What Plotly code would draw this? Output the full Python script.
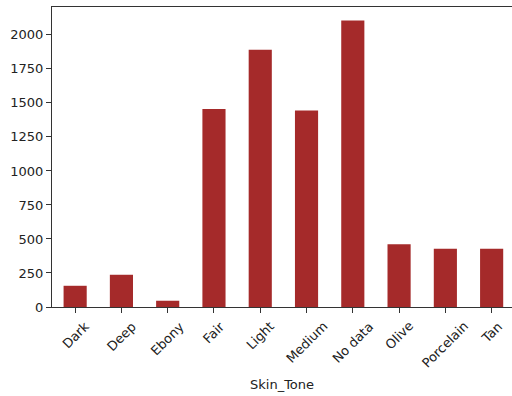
import plotly.graph_objects as go

categories = ["Dark", "Deep", "Ebony", "Fair", "Light", "Medium", "No data", "Olive", "Porcelain", "Tan"]
counts = [156, 237, 46, 1455, 1890, 1445, 2105, 462, 428, 428]
y_ticks = [0, 250, 500, 750, 1000, 1250, 1500, 1750, 2000]
x_title = "Skin_Tone"

FONT = "DejaVu Sans"
FS = 13
x_idx = list(range(len(categories)))

fig = go.Figure()
fig.add_trace(go.Bar(x=x_idx, y=counts, width=0.5, marker=dict(color="#A52A2A", line=dict(width=0))))

for i, c in zip(x_idx, categories):
    fig.add_annotation(x=i, y=0, xref="x", yref="paper", text=c, showarrow=False,
                       textangle=-45, xanchor="center", yanchor="top", yshift=-9,
                       font=dict(family=FONT, size=FS, color="#222"))

fig.add_annotation(x=0.5, y=0, xref="paper", yref="paper", text=x_title, showarrow=False,
                   xanchor="center", yanchor="middle", yshift=-77,
                   font=dict(family=FONT, size=FS, color="#222"))

fig.update_layout(
    width=512, height=396,
    margin=dict(l=52, r=0, t=7, b=89, autoexpand=False),
    paper_bgcolor="white", plot_bgcolor="white",
    showlegend=False,
    font=dict(family=FONT, size=FS, color="#222"),
    xaxis=dict(range=[-0.5, 9.44], tickmode="array", tickvals=x_idx, showticklabels=False,
               ticks="outside", ticklen=5, tickcolor="#333", showline=True, linecolor="#333",
               linewidth=1, mirror=True, showgrid=False, zeroline=False, automargin=False),
    yaxis=dict(range=[0, 2205], tickmode="array", tickvals=y_ticks,
               ticks="outside", ticklen=5, tickcolor="#333", showline=True, linecolor="#333",
               linewidth=1, mirror=False, showgrid=False, zeroline=False, automargin=False,
               tickfont=dict(family=FONT, size=FS, color="#222")),
)
fig.write_html("out.html", config={"displayModeBar": False},
               post_script="document.body.style.margin='0';document.body.style.overflow='hidden';")
